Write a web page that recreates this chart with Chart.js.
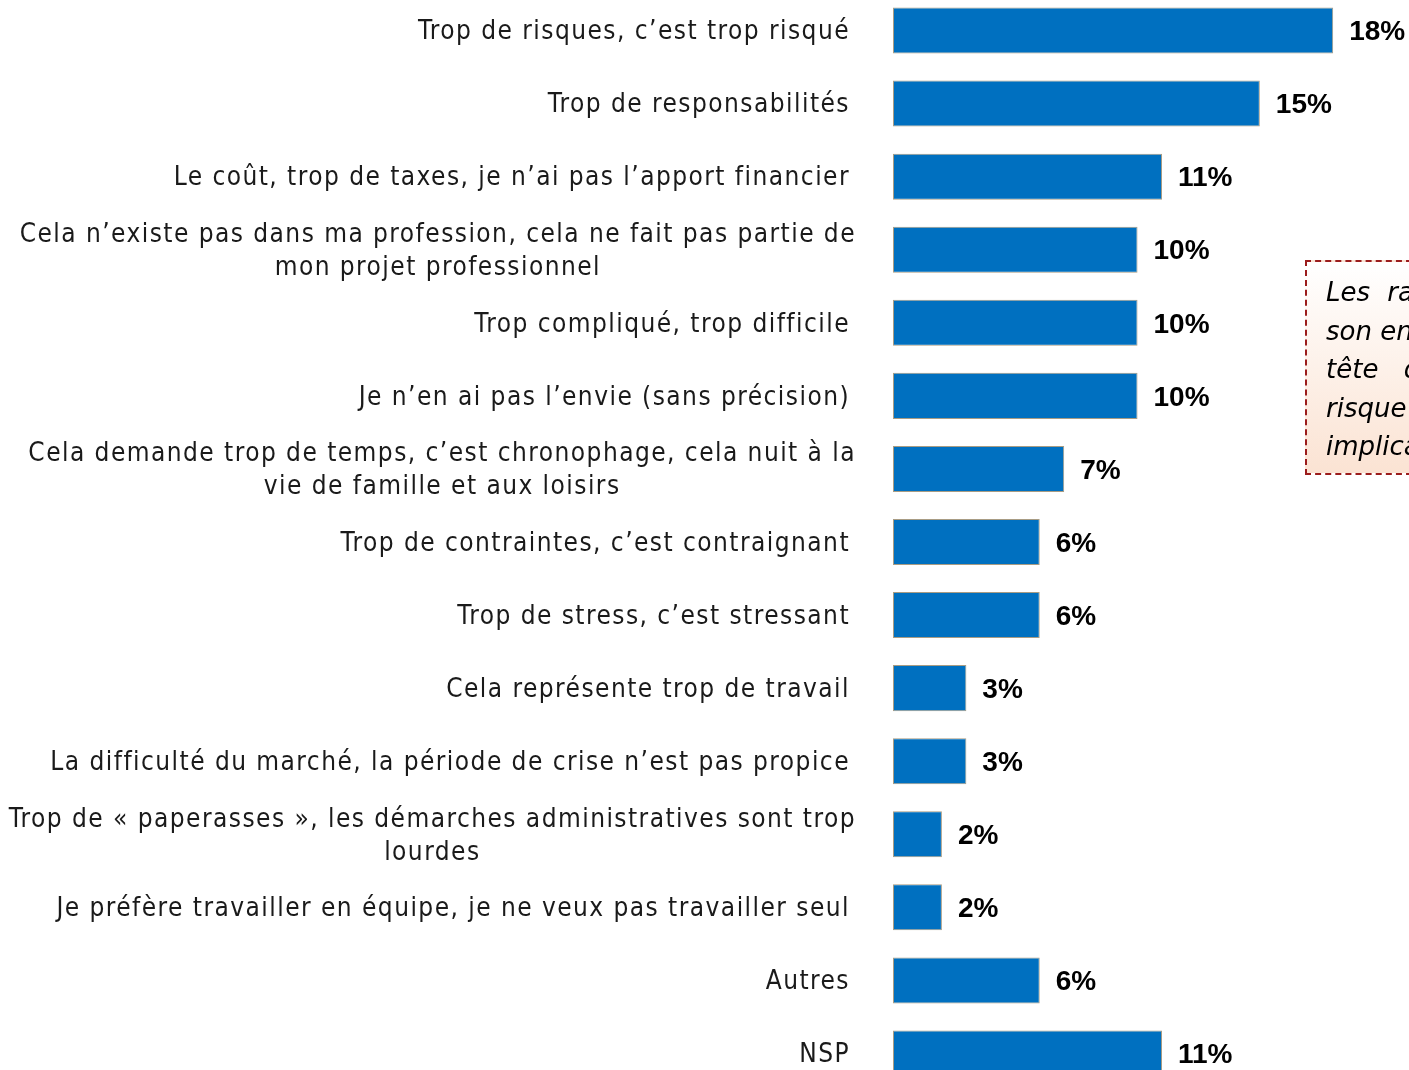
<!DOCTYPE html>
<html lang="fr">
<head>
<meta charset="utf-8">
<script src="https://cdn.jsdelivr.net/npm/chart.js@4.4.1/dist/chart.umd.min.js"></script>
<style>
  html, body { margin: 0; padding: 0; background: #fff; overflow: hidden; width: 1409px; height: 1070px; }
  #wrap { position: absolute; left: 0; top: -6px; width: 1409px; height: 1096px; }
  .note {
    position: absolute; left: 1305px; top: 260px; width: 400px; height: 215px;
    border: 2px dashed #9b1c1c;
    background: linear-gradient(to bottom, #ffffff 0%, #fbe3d3 100%);
    font-family: "DejaVu Sans", sans-serif; font-style: italic; font-size: 26px;
    color: #000; padding: 11px 0 0 19px; box-sizing: border-box; line-height: 38.5px;
    white-space: nowrap;
  }
</style>
</head>
<body>
<div id="wrap"><canvas id="chart"></canvas></div>
<div class="note">
  <div style="word-spacing: 9px">Les raisons de ne pas créer</div>
  <div>son entreprise : arrivent en</div>
  <div style="word-spacing: 17px">tête de liste la peur du</div>
  <div>risque et le refus de</div>
  <div>implication personnelle</div>
</div>
<script>
// --- Données ---
const categories = [
  ['Trop de risques, c’est trop risqué'],
  ['Trop de responsabilités'],
  ['Le coût, trop de taxes, je n’ai pas l’apport financier'],
  ['Cela n’existe pas dans ma profession, cela ne fait pas partie de', 'mon projet professionnel'],
  ['Trop compliqué, trop difficile'],
  ['Je n’en ai pas l’envie (sans précision)'],
  ['Cela demande trop de temps, c’est chronophage, cela nuit à la', 'vie de famille et aux loisirs'],
  ['Trop de contraintes, c’est contraignant'],
  ['Trop de stress, c’est stressant'],
  ['Cela représente trop de travail'],
  ['La difficulté du marché, la période de crise n’est pas propice'],
  ['Trop de « paperasses », les démarches administratives sont trop', 'lourdes'],
  ['Je préfère travailler en équipe, je ne veux pas travailler seul'],
  ['Autres'],
  ['NSP']
];
const values = [18, 15, 11, 10, 10, 10, 7, 6, 6, 3, 3, 2, 2, 6, 11];
const valueLabels = values.map(v => v + '%');

const BAR_COLOR = '#0070c0';
const LABEL_FONT = '26px "DejaVu Sans Condensed", "DejaVu Sans", sans-serif';
const VALUE_FONT = 'bold 28px "Liberation Sans", Arial, sans-serif';

// Libellés à gauche (lignes centrées entre elles, bloc aligné à droite)
const labelsPlugin = {
  id: 'labelsPlugin',
  afterDatasetsDraw(chart) {
    const ctx = chart.ctx;
    const yScale = chart.scales.y;
    const meta = chart.getDatasetMeta(0);
    ctx.save();
    ctx.fillStyle = '#1a1a1a';
    ctx.textBaseline = 'middle';
    ctx.font = LABEL_FONT;
    ctx.letterSpacing = '1.45px';
    categories.forEach((lines, i) => {
      const cy = yScale.getPixelForValue(i) + 2;
      const w = Math.max(...lines.map(l => ctx.measureText(l).width));
      // les blocs sur deux lignes débordent un peu à droite
      const right = lines.length > 1 ? 856 : 850;
      const cx = right - w / 2;
      const lh = 33;
      ctx.textAlign = 'center';
      lines.forEach((l, k) => {
        ctx.fillText(l, cx, cy + (k - (lines.length - 1) / 2) * lh);
      });
    });
    // Valeurs
    ctx.letterSpacing = '0px';
    ctx.font = VALUE_FONT;
    ctx.fillStyle = '#000';
    ctx.textAlign = 'left';
    meta.data.forEach((bar, i) => {
      ctx.fillText(valueLabels[i], bar.x + 16, bar.y + 2);
    });
    ctx.restore();
  }
};

new Chart(document.getElementById('chart'), {
  type: 'bar',
  data: {
    labels: categories,
    datasets: [{
      data: values,
      backgroundColor: BAR_COLOR,
      borderColor: '#a89c84',
      borderWidth: 1,
      borderSkipped: false,
      barPercentage: 0.63,
      categoryPercentage: 1
    }]
  },
  options: {
    indexAxis: 'y',
    responsive: true,
    maintainAspectRatio: false,
    animation: false,
    layout: { padding: { left: 893, right: 0, top: 0, bottom: 0 } },
    scales: {
      x: { display: false, min: 0, max: 21.1 },
      y: { display: false }
    },
    plugins: {
      legend: { display: false },
      tooltip: { enabled: false }
    }
  },
  plugins: [labelsPlugin]
});
</script>
</body>
</html>
